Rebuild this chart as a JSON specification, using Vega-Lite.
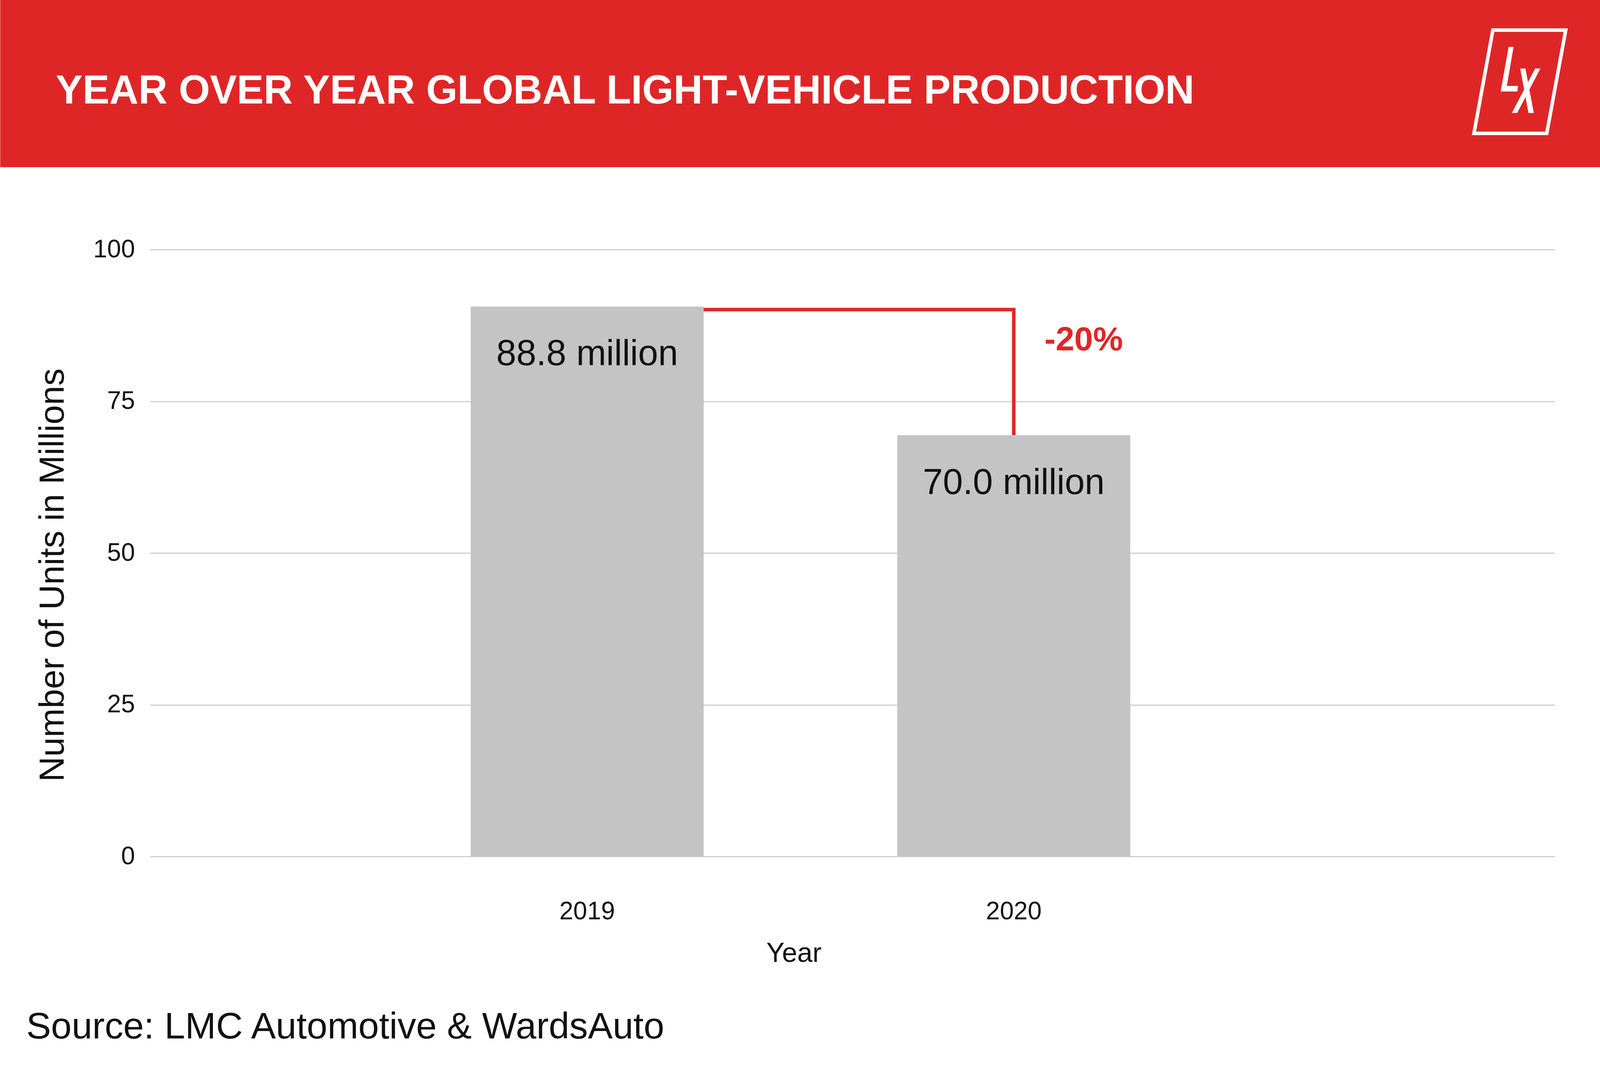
{
  "$schema": "https://vega.github.io/schema/vega-lite/v6.json",
  "background": "white",
  "padding": 0,
  "spacing": 179,
  "config": {"view": {"stroke": null}, "font": "Liberation Sans"},
  "datasets": {
    "header": [{"title": "YEAR OVER YEAR GLOBAL LIGHT-VEHICLE PRODUCTION"}],
    "bars": [
      {"year": "2019", "units": 90.6, "label": "88.8 million"},
      {"year": "2020", "units": 69.4, "label": "70.0 million"}
    ],
    "connector": [
      {"year": "2019", "units": 90.1, "step": 1},
      {"year": "2020", "units": 90.1, "step": 2},
      {"year": "2020", "units": 69.4, "step": 3}
    ],
    "note": [{"year": "2020", "units": 85.1, "text": "-20%"}]
  },
  "vconcat": [
    {
      "width": 3713,
      "height": 428,
      "data": {"name": "header"},
      "layer": [
        {
          "mark": {"type": "rect", "color": "#DF2627"},
          "encoding": {
            "x": {"datum": 0, "type": "quantitative", "scale": {"domain": [0.0936, 1], "nice": false, "zero": false}, "axis": null},
            "x2": {"datum": 1},
            "y": {"datum": 0, "type": "quantitative", "scale": {"domain": [0, 1], "nice": false}, "axis": null},
            "y2": {"datum": 1}
          }
        },
        {
          "mark": {"type": "text", "font": "Liberation Sans", "fontWeight": "bold", "fontSize": 103, "color": "white", "align": "left", "baseline": "alphabetic"},
          "encoding": {
            "x": {"datum": 0.0347, "type": "quantitative"},
            "y": {"datum": 0.3808, "type": "quantitative"},
            "text": {"field": "title"}
          }
        },
        {
          "mark": {"type": "point", "shape": "M-0.461,-0.884 L0.782,-0.884 L0.458,0.88 L-0.784,0.88 Z", "filled": false, "stroke": "white", "strokeWidth": 9, "strokeJoin": "miter", "size": 90000, "opacity": 1},
          "encoding": {
            "x": {"datum": 0.9497, "type": "quantitative"},
            "y": {"datum": 0.5105, "type": "quantitative"}
          }
        },
        {
          "mark": {"type": "point", "shape": "M-0.1925,-0.597 L-0.1081,-0.597 L-0.2228,0.070 L-0.0336,0.070 L-0.0426,0.165 L-0.3285,0.165 Z M0.0049,-0.226 L0.0942,-0.226 L0.2376,0.532 L0.1466,0.532 Z M0.2597,-0.226 L0.349,-0.226 L-0.0467,0.532 L-0.1376,0.532 Z", "filled": true, "fill": "white", "strokeWidth": 0, "size": 90000, "opacity": 1},
          "encoding": {
            "x": {"datum": 0.9497, "type": "quantitative"},
            "y": {"datum": 0.5105, "type": "quantitative"}
          }
        }
      ]
    },
    {
      "width": 3596,
      "height": 1554,
      "title": {
        "text": "Source: LMC Automotive & WardsAuto",
        "orient": "bottom",
        "anchor": "start",
        "frame": "bounds",
        "offset": 108,
        "dx": -24,
        "fontSize": 95,
        "font": "Liberation Sans",
        "fontWeight": "normal",
        "color": "#111111",
        "baseline": "top"
      },
      "encoding": {
        "x": {
          "field": "year",
          "type": "nominal",
          "scale": {"domain": ["2019", "2020"], "paddingInner": 0.4539, "paddingOuter": 0.8733, "align": 0.4304},
          "axis": {
            "title": "Year",
            "labelAngle": 0,
            "domain": false,
            "ticks": false,
            "tickSize": 0,
            "labelPadding": 109,
            "labelFont": "Liberation Sans",
            "labelFontSize": 64,
            "labelColor": "#111111",
            "titleFont": "Liberation Sans",
            "titleFontSize": 70,
            "titleFontWeight": "normal",
            "titleColor": "#111111",
            "titlePadding": 41,
            "titleX": 1648,
            "titleAlign": "center"
          }
        },
        "y": {
          "field": "units",
          "type": "quantitative",
          "scale": {"domain": [0, 100], "nice": false},
          "axis": {
            "title": "Number of Units in Millions",
            "values": [0, 25, 50, 75, 100],
            "grid": true,
            "gridColor": "#D0D0D0",
            "gridWidth": 3,
            "domain": false,
            "ticks": false,
            "tickSize": 0,
            "labelPadding": 39,
            "labelFont": "Liberation Sans",
            "labelFontSize": 64,
            "labelColor": "#111111",
            "titleFont": "Liberation Sans",
            "titleFontSize": 89,
            "titleFontWeight": "normal",
            "titleColor": "#111111",
            "titlePadding": 57,
            "titleY": 833
          }
        }
      },
      "layer": [
        {
          "data": {"name": "connector"},
          "mark": {"type": "line", "color": "#DF2627", "strokeWidth": 9, "strokeCap": "butt", "strokeJoin": "miter"},
          "encoding": {"order": {"field": "step", "type": "quantitative"}}
        },
        {
          "data": {"name": "bars"},
          "mark": {"type": "bar", "color": "#C4C4C4"}
        },
        {
          "data": {"name": "bars"},
          "mark": {"type": "text", "font": "Liberation Sans", "fontSize": 92, "color": "#111111", "baseline": "middle", "align": "center", "dy": 122},
          "encoding": {"text": {"field": "label"}}
        },
        {
          "data": {"name": "note"},
          "mark": {"type": "text", "font": "Liberation Sans", "fontWeight": "bold", "fontSize": 86, "color": "#DF2627", "baseline": "middle", "align": "center"},
          "encoding": {
            "x": {"field": "year", "type": "nominal", "bandPosition": 0.8},
            "text": {"field": "text"}
          }
        }
      ]
    }
  ]
}
